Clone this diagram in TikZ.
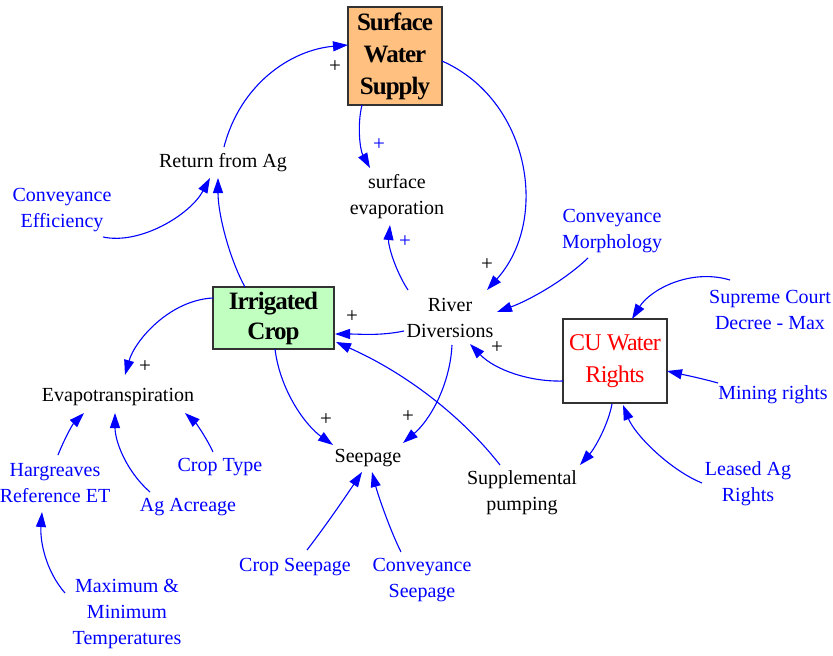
\documentclass[tikz,border=0pt]{standalone}
\usepackage{fontspec}
\setmainfont{Liberation Serif}
\usetikzlibrary{arrows.meta}
\definecolor{pureblue}{RGB}{0,0,255}
\definecolor{purered}{RGB}{255,0,0}
\definecolor{swsfill}{RGB}{255,192,128}
\definecolor{cropfill}{RGB}{192,255,192}
\definecolor{boxline}{RGB}{50,50,50}
\tikzset{
  lbl/.style={align=center, inner sep=0pt, font=\fontsize{20}{26}\selectfont},
  blbl/.style={lbl, text=pureblue},
  stock/.style={draw=boxline, line width=1.3pt, inner sep=0pt, align=center},
  link/.style={draw=pureblue, line width=1.1pt, -{Triangle[length=15pt,width=10pt]}},
  pl/.style={inner sep=0pt, font=\fontsize{21}{21}\selectfont},
}
\begin{document}
\begin{tikzpicture}[x=1pt,y=-1pt]
\useasboundingbox (0,0) rectangle (833,656);
% stocks
\node[stock, fill=swsfill, minimum width=94pt, minimum height=98pt,
      font=\fontsize{25}{32}\selectfont\bfseries\addfontfeatures{LetterSpace=-4}] (sws) at (395,56) {Surface\\Water\\Supply};
\node[stock, fill=cropfill, minimum width=121pt, minimum height=62pt,
      font=\fontsize{25}{30}\selectfont\bfseries\addfontfeatures{LetterSpace=-4}] (crop) at (273.5,318) {Irrigated\\Crop};
\node[stock, fill=white, minimum width=104pt, minimum height=84pt, text=purered,
      font=\fontsize{24}{32}\selectfont\addfontfeatures{LetterSpace=-3}] (cu) at (615,361) {CU Water\\Rights};
% variables
\node[lbl] (ret) at (223,163) {Return from Ag};
\node[lbl] (sevap) at (397,197) {surface\\evaporation};
\node[blbl] (ceff) at (62,210) {Conveyance\\Efficiency};
\node[lbl] (riv) at (450,318) {River\\Diversions};
\node[blbl] (cmorph) at (612,231) {Conveyance\\Morphology};
\node[blbl] (sup) at (770,310) {Supreme Court\\Decree - Max};
\node[blbl] (mining) at (773,395) {Mining rights};
\node[blbl] (leased) at (748,484) {Leased Ag\\Rights};
\node[lbl] (supp) at (522,493) {Supplemental\\pumping};
\node[lbl] (seep) at (368,458) {Seepage};
\node[lbl] (et) at (118,397) {Evapotranspiration};
\node[blbl] (harg) at (55,483) {Hargreaves\\Reference ET};
\node[blbl] (agac) at (188,507) {Ag Acreage};
\node[blbl] (ctype) at (220,467) {Crop Type};
\node[blbl] (cseep) at (295,567) {Crop Seepage};
\node[blbl] (convseep) at (422,580) {Conveyance\\Seepage};
\node[blbl] (maxmin) at (127,614) {Maximum \&\\Minimum\\Temperatures};
% connectors
\draw[link] ([shift={(1,-16)}]ret.center) .. controls (240,85) and (290,50) .. ([shift={(-47,-11)}]sws.center);
\draw[link] ([shift={(-33,49)}]sws.center) .. controls (357,125) and (360,150) .. ([shift={(-27,-29)}]sevap.center);
\draw[link] ([shift={(47,5)}]sws.center) .. controls (530,100) and (550,220) .. ([shift={(37,-28)}]riv.center);
\draw[link] ([shift={(-42,-28)}]riv.center) .. controls (395,270) and (388,245) .. ([shift={(-7,28)}]sevap.center);
\draw[link] ([shift={(-24,27)}]cmorph.center) .. controls (565,280) and (530,300) .. ([shift={(47,-6)}]riv.center);
\draw[link] ([shift={(-46,13)}]riv.center) .. controls (380,336) and (360,334) .. ([shift={(61.5,16)}]crop.center);
\draw[link] ([shift={(-52,20)}]cu.center) .. controls (530,382) and (495,370) .. ([shift={(20,26)}]riv.center);
\draw[link] ([shift={(-40,-30)}]sup.center) .. controls (690,268) and (650,290) .. ([shift={(17,-42)}]cu.center);
\draw[link] ([shift={(-55,-12)}]mining.center) .. controls (700,378) and (685,375) .. ([shift={(52,10)}]cu.center);
\draw[link] ([shift={(-46,-1)}]leased.center) .. controls (670,470) and (635,435) .. ([shift={(8,44)}]cu.center);
\draw[link] ([shift={(-3,43)}]cu.center) .. controls (608,425) and (595,448) .. ([shift={(58,-28)}]supp.center);
\draw[link] ([shift={(-22,-28)}]supp.center) .. controls (465,420) and (410,375) .. ([shift={(62.5,24)}]crop.center);
\draw[link] ([shift={(-28.5,-31)}]crop.center) .. controls (230,260) and (218,215) .. ([shift={(-5,15)}]ret.center);
\draw[link] ([shift={(41,27)}]ceff.center) .. controls (140,245) and (190,215) .. ([shift={(-13,15)}]ret.center);
\draw[link] ([shift={(-60.5,-20)}]crop.center) .. controls (170,300) and (135,340) .. ([shift={(7,-22)}]et.center);
\draw[link] ([shift={(1.5,31)}]crop.center) .. controls (280,390) and (305,425) .. ([shift={(-35,-13)}]seep.center);
\draw[link] ([shift={(2,27)}]riv.center) .. controls (450,385) and (430,420) .. ([shift={(35,-15)}]seep.center);
\draw[link] ([shift={(3,-28)}]harg.center) .. controls (64,440) and (72,425) .. ([shift={(-34,16)}]et.center);
\draw[link] ([shift={(-38,-15)}]agac.center) .. controls (125,470) and (115,440) .. ([shift={(-3,16)}]et.center);
\draw[link] ([shift={(-7,-15)}]ctype.center) .. controls (205,435) and (195,422) .. ([shift={(67,16)}]et.center);
\draw[link] ([shift={(-62,-21)}]maxmin.center) .. controls (45,570) and (40,540) .. ([shift={(-13,29)}]harg.center);
\draw[link] ([shift={(12,-17)}]cseep.center) .. controls (330,520) and (350,490) .. ([shift={(-6,14)}]seep.center);
\draw[link] ([shift={(-21,-28)}]convseep.center) .. controls (390,530) and (378,495) .. ([shift={(4,14)}]seep.center);
% polarity signs
\node[pl] (p1) at (335,67) {+};
\node[pl, text=pureblue] (p2) at (379,145) {+};
\node[pl] (p3) at (487,265) {+};
\node[pl, text=pureblue] (p4) at (405,242) {+};
\node[pl] (p5) at (352,317) {+};
\node[pl] (p6) at (497,348) {+};
\node[pl] (p7) at (145,367) {+};
\node[pl] (p8) at (326,420) {+};
\node[pl] (p9) at (408,417) {+};
\end{tikzpicture}
\end{document}
